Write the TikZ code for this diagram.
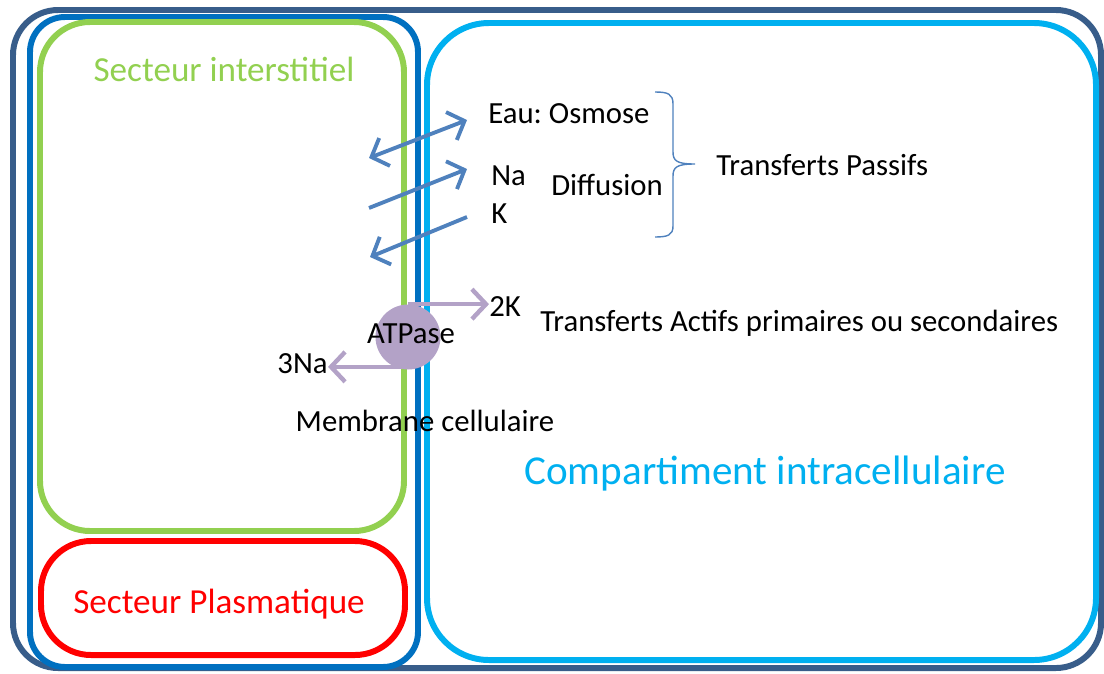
\documentclass[tikz,border=0pt]{standalone}
\usepackage{fontspec}
\setmainfont{Carlito}
\usetikzlibrary{arrows.meta, positioning}
\definecolor{cadre}{HTML}{385D8A}
\definecolor{bleuext}{HTML}{0070C0}
\definecolor{vertint}{HTML}{92D050}
\definecolor{rougepl}{HTML}{FF0000}
\definecolor{cyanic}{HTML}{00B0F0}
\definecolor{flechebl}{HTML}{4F81BD}
\definecolor{lavande}{HTML}{B3A2C7}

\begin{document}
\begin{tikzpicture}[
  x=0.02cm, y=-0.02cm,
  boxline/.style={line width=3.4pt},
  lab/.style={font=\fontsize{17.5}{21}\selectfont, inner sep=0pt, text=black},
  seclab/.style={font=\fontsize{20}{24}\selectfont, inner sep=0pt},
  passarrow/.style={draw=flechebl, line width=2.2pt, -{Straight Barb[length=8pt, width=17pt]}},
  actarrow/.style={draw=lavande, line width=2.5pt, -{Straight Barb[length=8pt, width=17pt]}},
  pump/.style={circle, fill=lavande, draw=none, minimum size=1.3cm, inner sep=0pt},
  accol/.style={draw=flechebl, line width=0.8pt}
]
\useasboundingbox (0,0) rectangle (1104,673);

%--------------------------------------------------------------
% Compartiments (cadres arrondis)
%--------------------------------------------------------------
\draw[boxline, draw=cadre, rounded corners=0.9cm] (13,10) rectangle (1101,668);
\draw[boxline, draw=bleuext, rounded corners=0.7cm] (30,17) rectangle (418,667);
\draw[boxline, draw=vertint, rounded corners=1.0cm] (40,22) rectangle (404,531);
\draw[boxline, draw=rougepl, rounded corners=1.0cm] (41,541) rectangle (405,655);
\draw[boxline, draw=cyanic, rounded corners=1.24cm] (427,23) rectangle (1096,660);

\node[seclab, text=vertint] (inter) at (224,69) {Secteur interstitiel};
\node[seclab, text=rougepl] (plasma) at (219,604) {Secteur Plasmatique};
\node[font=\fontsize{23.4}{28}\selectfont, inner sep=0pt, text=cyanic]
  (intra) at (765,474) {Compartiment intracellulaire};

%--------------------------------------------------------------
% Transferts passifs
%--------------------------------------------------------------
\coordinate (eauA) at (369,158);
\coordinate (eauB) at (467,120);
\coordinate (naA) at (369,208);
\coordinate (naB) at (467,169);
\coordinate (kA) at (467,217);
\coordinate (kB) at (370,257);

\draw[passarrow, {Straight Barb[length=8pt, width=17pt]}-{Straight Barb[length=8pt, width=17pt]}] (eauA) -- (eauB);
\draw[passarrow] (naA) -- (naB);
\draw[passarrow] (kA) -- (kB);

\node[lab, anchor=west] (eau) at (488,114) {Eau:\ Osmose};
\node[lab, anchor=west] (na) at (491,176) {Na};
\node[lab, anchor=west] (k) at (491,214) {K};
\node[lab] (diff) at (607,185) {Diffusion};

% accolade
\coordinate (accH) at (655,92);
\coordinate (accP) at (695,164);
\coordinate (accB) at (655,237);
\draw[accol] (accH) .. controls (668,92) and (673,94) .. (673,104) -- (673,152)
  .. controls (673,161) and (677,164) .. (accP)
  .. controls (677,164) and (673,167) .. (673,176) -- (673,226)
  .. controls (673,235) and (668,237) .. (accB);
\node[lab, anchor=west] (passif) at (716,165) {Transferts Passifs};

%--------------------------------------------------------------
% Transferts actifs : pompe ATPase
%--------------------------------------------------------------
\node[pump] (atp) at (408,337) {};
\node[lab, anchor=west] (k2) at (489,307) {2K};
\node[lab, anchor=east] (na3) at (328,364) {3Na};
\draw[actarrow] (atp.north) -- (k2.west |- atp.north);
\draw[actarrow] ([yshift=0.06cm]atp.south) -- ([yshift=0.06cm]na3.east |- atp.south);
\node[lab] (atpl) at (411,334) {ATPase};

\node[lab, anchor=west] (actif) at (540,323) {Transferts Actifs primaires ou secondaires};
\node[lab] (membr) at (425,421) {Membrane cellulaire};

\end{tikzpicture}
\end{document}
